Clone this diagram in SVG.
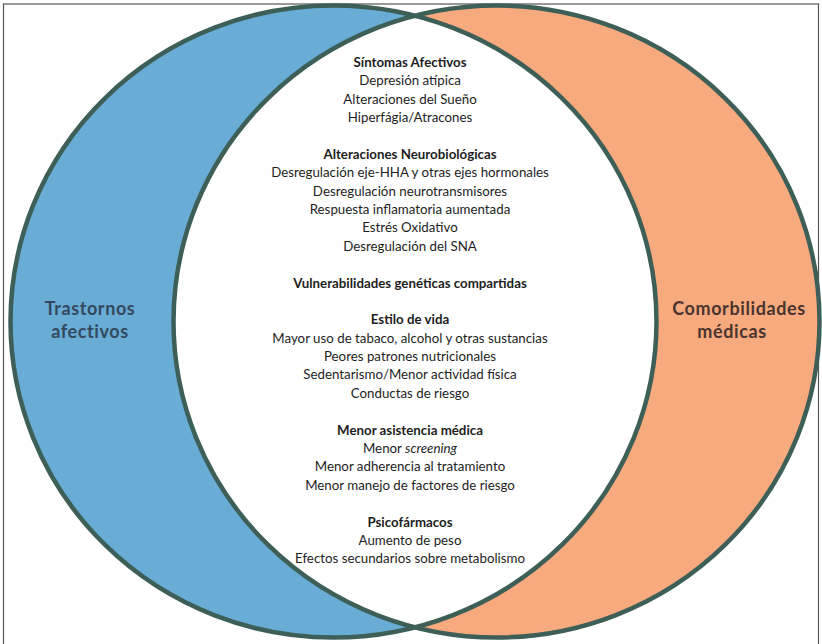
<svg xmlns="http://www.w3.org/2000/svg" width="822" height="644" viewBox="0 0 822 644">
<style>
.ring{fill:none;stroke:#3e5f58;stroke-width:4.5}
.t{font-family:Lato,"Liberation Sans",sans-serif;font-size:13.3px;fill:#1e1e1e;text-anchor:middle}
.h{font-weight:bold}
.side{font-family:Lato,"Liberation Sans",sans-serif;font-weight:bold;font-size:18px;text-anchor:middle;letter-spacing:0.6px}
</style>
<defs>
<clipPath id="clipL"><ellipse cx="333.5" cy="321.5" rx="323" ry="316"/></clipPath>
</defs>
<rect x="0" y="0" width="822" height="644" fill="#ffffff"/>
<rect x="3.5" y="4" width="815" height="650" fill="none" stroke="#555" stroke-width="1.2"/>
<g id="node-trastornos">
<ellipse cx="333.5" cy="321.5" rx="323" ry="316" fill="#69acd5"/>
</g>
<g id="node-comorbilidades">
<ellipse cx="496.5" cy="321.5" rx="323" ry="316" fill="#f8aa7f"/>
</g>
<g id="node-interseccion">
<ellipse cx="496.5" cy="321.5" rx="323" ry="316" fill="#ffffff" clip-path="url(#clipL)"/>
</g>
<g id="outlines">
<ellipse class="ring" cx="333.5" cy="321.5" rx="323" ry="316"/>
<ellipse class="ring" cx="496.5" cy="321.5" rx="323" ry="316"/>
</g>
<g id="label-trastornos">
<text class="side" x="90" y="315" fill="#34495e">Trastornos</text>
<text class="side" x="90" y="338" fill="#34495e">afectivos</text>
</g>
<g id="label-comorbilidades">
<text class="side" x="739" y="315" fill="#4a342e" letter-spacing="0.9">Comorbilidades</text>
<text class="side" x="732" y="338" fill="#4a342e" letter-spacing="0.9">médicas</text>
</g>
<g id="texts">
<text class="t h" x="410" y="67">Síntomas Afectivos</text>
<text class="t" x="410" y="85.4">Depresión atípica</text>
<text class="t" x="410" y="103.8">Alteraciones del Sueño</text>
<text class="t" x="410" y="122.1">Hiperfágia/Atracones</text>
<text class="t h" x="410" y="158.9">Alteraciones Neurobiológicas</text>
<text class="t" x="410" y="177.3">Desregulación eje-HHA y otras ejes hormonales</text>
<text class="t" x="410" y="195.7">Desregulación neurotransmisores</text>
<text class="t" x="410" y="214">Respuesta inflamatoria aumentada</text>
<text class="t" x="410" y="232.4">Estrés Oxidativo</text>
<text class="t" x="410" y="250.8">Desregulación del SNA</text>
<text class="t h" x="410" y="287.6">Vulnerabilidades genéticas compartidas</text>
<text class="t h" x="410" y="324.3">Estilo de vida</text>
<text class="t" x="410" y="342.7">Mayor uso de tabaco, alcohol  y otras sustancias</text>
<text class="t" x="410" y="361.1">Peores patrones nutricionales</text>
<text class="t" x="410" y="379.4">Sedentarismo/Menor actividad física</text>
<text class="t" x="410" y="397.8">Conductas de riesgo</text>
<text class="t h" x="410" y="434.6">Menor asistencia médica</text>
<text class="t" x="410" y="453">Menor <tspan font-style="italic">screening</tspan></text>
<text class="t" x="410" y="471.3">Menor adherencia al tratamiento</text>
<text class="t" x="410" y="489.7">Menor manejo de factores de riesgo</text>
<text class="t h" x="410" y="526.5">Psicofármacos</text>
<text class="t" x="410" y="544.9">Aumento de peso</text>
<text class="t" x="410" y="563.2">Efectos secundarios sobre metabolismo</text>
</g>
</svg>
